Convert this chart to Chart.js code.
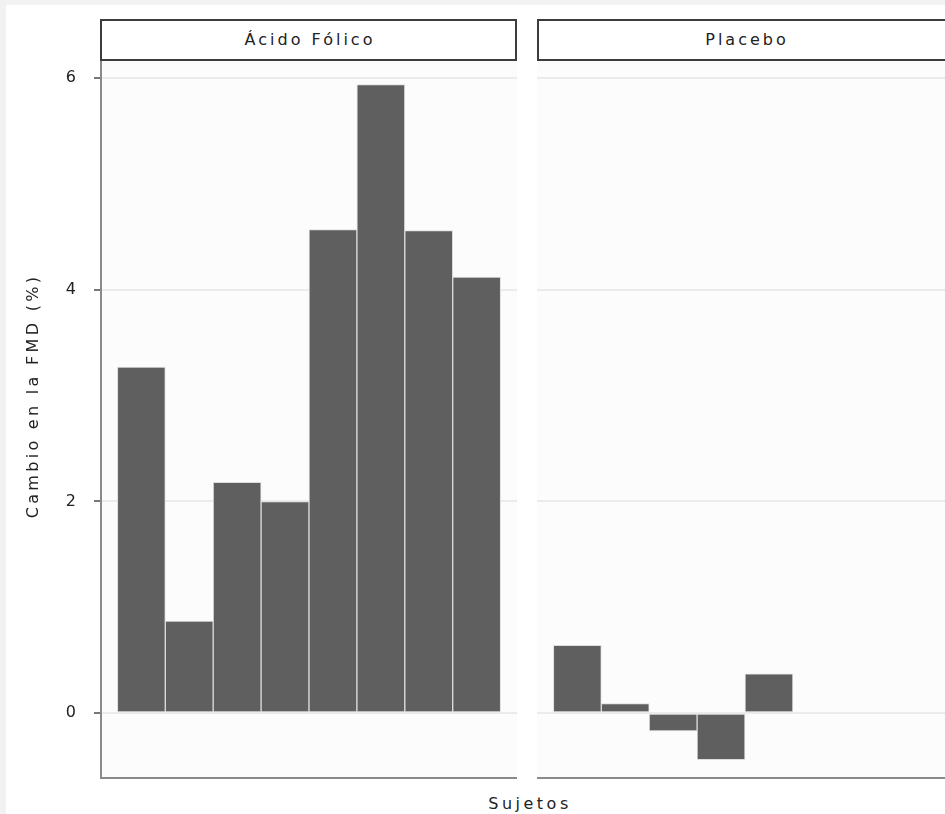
<!DOCTYPE html>
<html lang="es">
<head>
<meta charset="utf-8">
<title>Cambio en la FMD por sujeto</title>
<script src="https://cdn.jsdelivr.net/npm/chart.js@4/dist/chart.umd.min.js"></script>
<style>
  html, body { margin: 0; padding: 0; }
  body {
    position: relative;
    width: 945px;
    height: 814px;
    overflow: hidden;
    background: #f2f2f2;
    font-family: 'DejaVu Sans', sans-serif;
    color: #222;
  }
  #sheet { position: absolute; left: 6px; top: 5px; right: 0; bottom: 0; background: #fff; }
  .strip {
    position: absolute;
    top: 19px;
    width: 417px;
    height: 42px;
    box-sizing: border-box;
    border: 2px solid #3c3c3c;
    background: #fff;
    font-size: 16px;
    letter-spacing: 3px;
    padding-left: 3px;
    line-height: 38px;
    text-align: center;
    z-index: 2;
  }
  .panel { position: absolute; top: 60px; height: 722px; }
  #ytitle {
    position: absolute;
    left: -117px;
    top: 385px;
    width: 300px;
    line-height: 22px;
    font-size: 16px;
    letter-spacing: 3.3px;
    text-align: center;
    transform: rotate(-90deg);
  }
  #xtitle {
    position: absolute;
    left: 427px;
    top: 793px;
    width: 200px;
    line-height: 22px;
    font-size: 16px;
    letter-spacing: 3.5px;
    padding-left: 3px;
    text-align: center;
  }
</style>
</head>
<body>
<div id="sheet"></div>

<div class="strip" id="strip-0" style="left:100px"></div>
<div class="strip" id="strip-1" style="left:537px"></div>

<div class="panel" style="left:0; width:517px"><canvas id="chart-folico"></canvas></div>
<div class="panel" style="left:537px; width:416px"><canvas id="chart-placebo"></canvas></div>

<div id="ytitle">Cambio en la FMD (%)</div>
<div id="xtitle">Sujetos</div>

<script>
/* ── Data ────────────────────────────────────────────────────────────────
 * Change in FMD (%) per subject.
 * ──────────────────────────────────────────────────────────────────────── */
var PANELS = ['Ácido Fólico', 'Placebo'];
var SUBJECTS = [1, 2, 3, 4, 5, 6, 7, 8];
var FOLICO = [3.27, 0.87, 2.18, 2.00, 4.57, 5.94, 4.56, 4.12];
var PLACEBO = [0.64, 0.09, -0.17, -0.44, 0.37];
var Y_TICKS = [0, 2, 4, 6];

(function () {
  'use strict';

  var Y_MIN = -0.614;
  var Y_MAX = 6.173;
  var X_MIN = 0.158;
  var X_MAX = 8.842;

  var BAR = '#5f5f5f';
  var BAR_EDGE = '#dedede';
  var AXIS = '#8a8a8a';
  var GRID = '#ebebeb';
  var PLOT_BG = '#fcfcfc';

  Chart.defaults.font.family = "'DejaVu Sans', sans-serif";
  Chart.defaults.color = '#222';

  // Slightly off-white fill behind each panel's plotting area
  var plotBackground = {
    id: 'plotBackground',
    beforeDraw: function (chart) {
      var a = chart.chartArea;
      var ctx = chart.ctx;
      ctx.save();
      ctx.fillStyle = PLOT_BG;
      ctx.fillRect(a.left, a.top, a.right - a.left, a.bottom - a.top);
      ctx.restore();
    }
  };

  function buildPanel(canvasId, values, withAxis) {
    var points = values.map(function (v, i) { return { x: SUBJECTS[i], y: v }; });

    return new Chart(document.getElementById(canvasId), {
      type: 'bar',
      data: {
        datasets: [{
          data: points,
          backgroundColor: BAR,
          borderColor: BAR_EDGE,
          borderWidth: 1,
          borderSkipped: false,
          barPercentage: 1,
          categoryPercentage: 1
        }]
      },
      plugins: [plotBackground],
      options: {
        responsive: true,
        maintainAspectRatio: false,
        animation: false,
        layout: { padding: 0 },
        plugins: {
          legend: { display: false },
          tooltip: { enabled: true }
        },
        scales: {
          x: {
            type: 'linear',
            offset: false,
            min: X_MIN,
            max: X_MAX,
            grid: { display: false, drawTicks: false },
            border: { display: true, color: AXIS, width: 2 },
            ticks: { display: false },
            afterBuildTicks: function (scale) {
              scale.ticks = SUBJECTS.map(function (v) { return { value: v }; });
            },
            afterFit: function (scale) {
              scale.height = 4;
              scale.paddingLeft = 0;
              scale.paddingRight = 0;
            }
          },
          y: {
            min: Y_MIN,
            max: Y_MAX,
            grid: {
              color: GRID,
              lineWidth: 2,
              drawTicks: withAxis,
              tickLength: 7,
              tickColor: '#777',
              tickWidth: 2
            },
            border: { display: withAxis, color: AXIS, width: 2 },
            ticks: {
              display: withAxis,
              padding: 18,
              color: '#222',
              font: { size: 16 }
            },
            afterBuildTicks: function (scale) {
              scale.ticks = Y_TICKS.map(function (v) { return { value: v }; });
            },
            afterFit: function (scale) {
              scale.width = withAxis ? 101 : 0;
              scale.paddingTop = 0;
              scale.paddingBottom = 0;
            }
          }
        }
      }
    });
  }

  function run() {
    PANELS.forEach(function (name, i) {
      document.getElementById('strip-' + i).textContent = name;
    });
    buildPanel('chart-folico', FOLICO, true);
    buildPanel('chart-placebo', PLACEBO, false);
  }

  if (document.readyState === 'loading') {
    document.addEventListener('DOMContentLoaded', run);
  } else {
    run();
  }
})();
</script>
</body>
</html>
